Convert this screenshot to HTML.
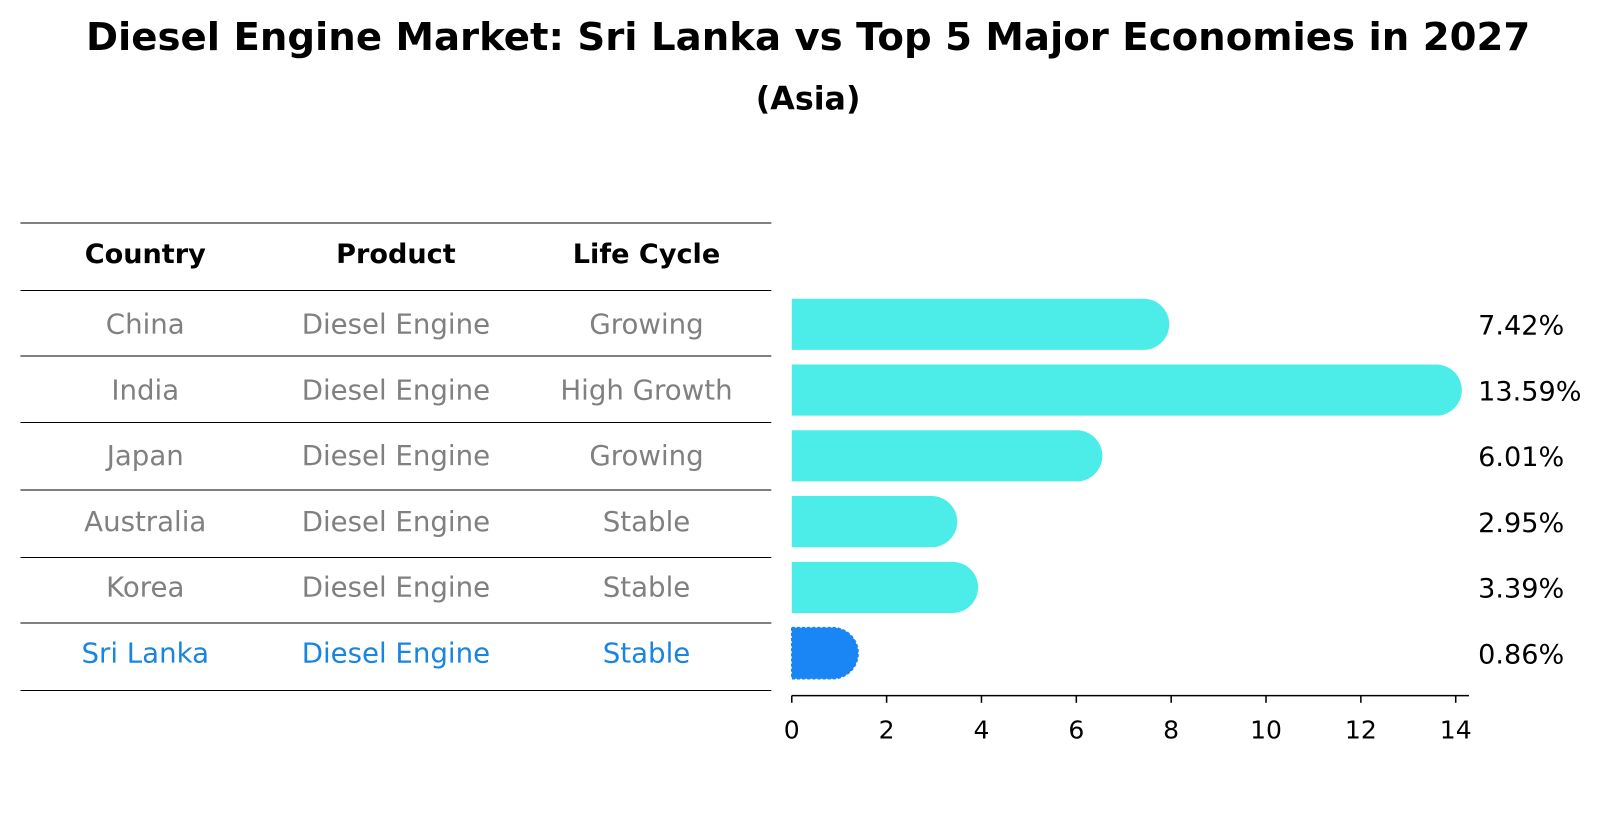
<!DOCTYPE html>
<html><head><meta charset="utf-8"><style>
body{margin:0;background:#fff;font-family:"DejaVu Sans","Liberation Sans",sans-serif}
</style></head><body>
<svg width="1604" height="823" viewBox="0 0 1568 804.5" preserveAspectRatio="none" xmlns="http://www.w3.org/2000/svg" font-family="DejaVu Sans, Liberation Sans, sans-serif">
<text x="790" y="49" text-anchor="middle" font-size="37.8" font-weight="bold">Diesel Engine Market: Sri Lanka vs Top 5 Major Economies in 2027</text>
<text x="790" y="107" text-anchor="middle" font-size="31" font-weight="bold">(Asia)</text>
<g id="table"></g>
<g id="bars"></g>
<g id="axis"></g>
</svg>
<script>
const countries=["China","India","Japan","Australia","Korea","Sri Lanka"];
const products=["Diesel Engine","Diesel Engine","Diesel Engine","Diesel Engine","Diesel Engine","Diesel Engine"];
const lifecycles=["Growing","High Growth","Growing","Stable","Stable","Stable"];
const values=[7.42,13.59,6.01,2.95,3.39,0.86];
const ticks=[0,2,4,6,8,10,12,14];
const NS="http://www.w3.org/2000/svg";
function mk(t,a,p){const e=document.createElementNS(NS,t);for(const k in a)e.setAttribute(k,a[k]);p.appendChild(e);return e;}
const X=v=>774+v*46.36;
const rowY=i=>317+i*64.3;
const tbl=document.getElementById('table');
const lines=[218,284,348,413,479,545,609,675];
lines.forEach((y,i)=>{const l=mk('line',{x1:20,x2:754,y1:y,y2:y,stroke:'#000','stroke-width':1},tbl);

});
const cx=[142,387,632];
["Country","Product","Life Cycle"].forEach((h,j)=>{const t=mk('text',{x:cx[j],y:257,'text-anchor':'middle','font-size':26.5,'font-weight':'bold'},tbl);t.textContent=h;

});
countries.forEach((c,i)=>{const col=i===5?'#1a85e0':'#808080';
[c,products[i],lifecycles[i]].forEach((s,j)=>{const t=mk('text',{x:cx[j],y:rowY(i)+9,'text-anchor':'middle','font-size':27,fill:col},tbl);t.textContent=s;

});});
const bars=document.getElementById('bars');
const r=25;
values.forEach((v,i)=>{const y=rowY(i),xe=X(v),x0=X(0);
const p=mk('path',{d:`M${x0},${y-r}H${xe}A${r},${r} 0 0 1 ${xe},${y+r}H${x0}Z`,fill:i===5?'#1a85f5':'#4cede8'},bars);


if(i===5){p.setAttribute('stroke','#1a85f5');p.setAttribute('stroke-dasharray','3 2');p.setAttribute('stroke-width','1.5');}
const t=mk('text',{x:1445,y:y+10,'font-size':26.5},bars);t.textContent=v.toFixed(2)+'%';

});
const ax=document.getElementById('axis');
const al=mk('line',{x1:774,x2:1436,y1:680,y2:680,stroke:'#000','stroke-width':1.5},ax);


ticks.forEach(v=>{const tl=mk('line',{x1:X(v),x2:X(v),y1:680,y2:687,stroke:'#000','stroke-width':1.5},ax);


const t=mk('text',{x:X(v),y:722,'text-anchor':'middle','font-size':24.5},ax);t.textContent=v;

});
</script>
</body></html>
